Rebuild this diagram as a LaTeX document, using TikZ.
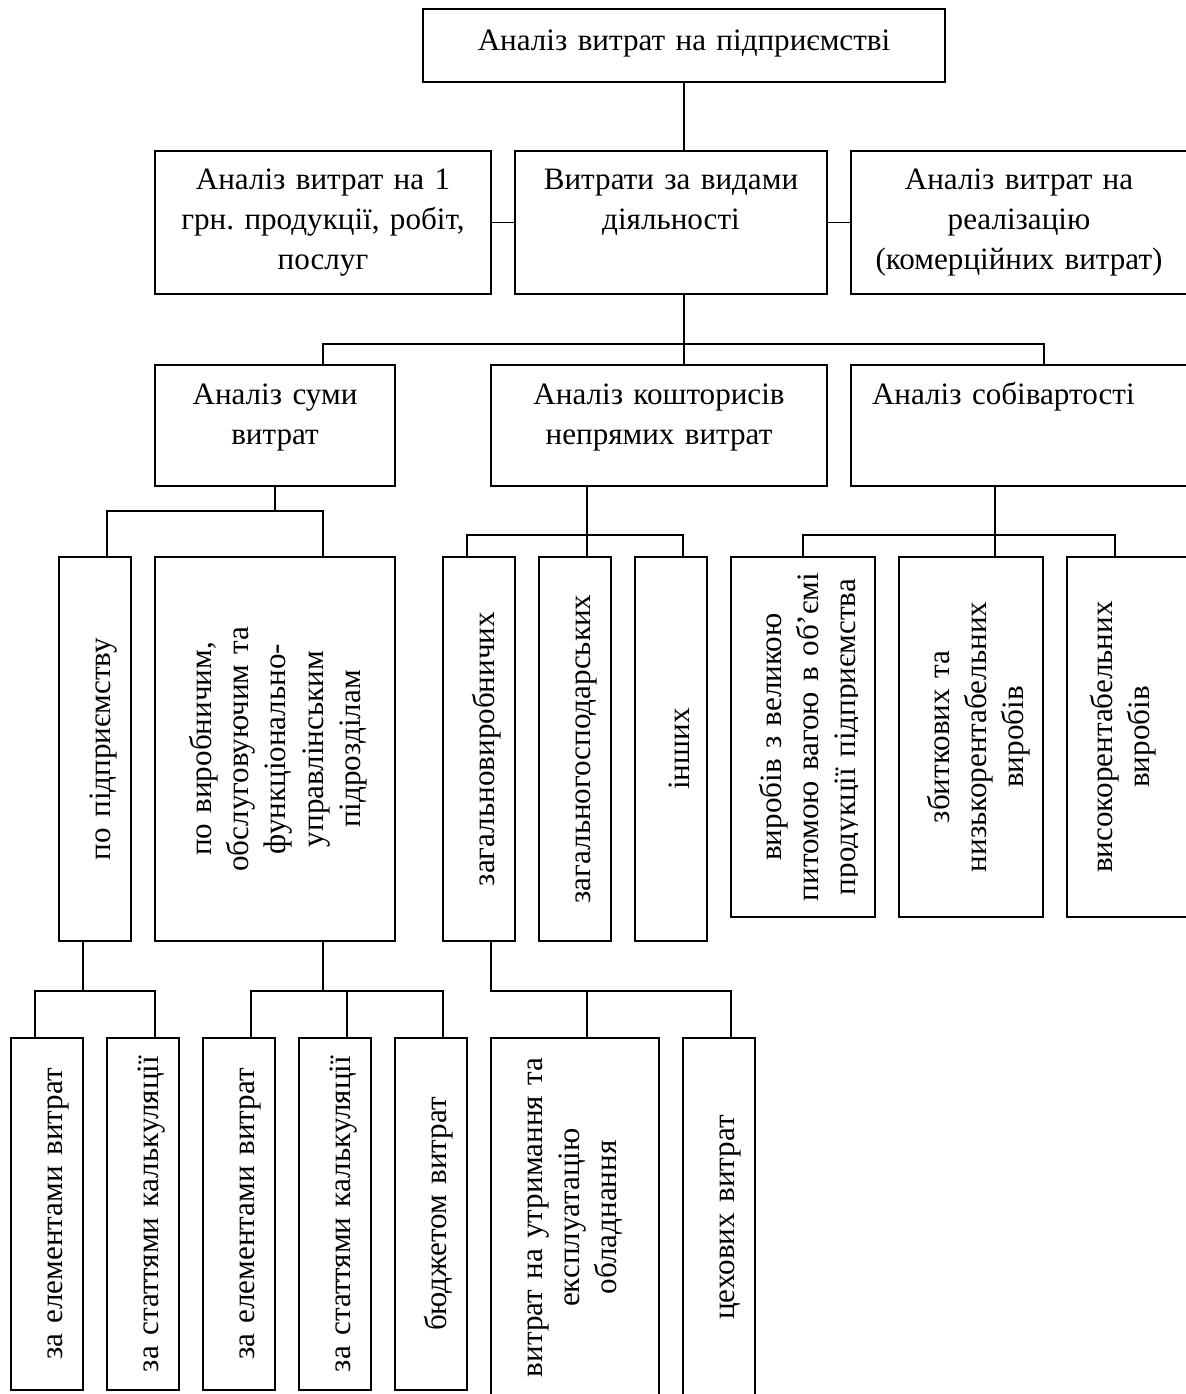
\documentclass[tikz,border=0pt]{standalone}
\usepackage{fontspec}
\setmainfont{Liberation Serif}
\usetikzlibrary{calc}
\frenchspacing

\tikzset{
  box/.style={draw, line width=0.75pt, inner sep=0pt, align=center},
  hbox/.style={box, anchor=north, font=\fontsize{14}{18}\selectfont},
  vbox/.style={box, rotate=90, text height=17pt, font=\fontsize{14}{16.8}\selectfont},
  link/.style={line width=0.75pt},
}

\begin{document}
\begin{tikzpicture}[x=0.45pt, y=-0.45pt]
  \useasboundingbox (0,0) rectangle (1186,1394);
  \clip (0,0) rectangle (1186,1394);

  % Draw the top box and the next two rows
  \node[hbox, text width=234.9pt, text height=18.9pt, text depth=13.95pt] (top) at (684,8) {Аналіз витрат на підприємстві};
  \foreach \nm/\cx/\w/\txt in {perunit/323/151.2pt/{Аналіз витрат на 1\\грн. продукції, робіт,\\послуг},
      kinds/671/140.4pt/{Витрати за видами\\діяльності},
      sales/1019/151.2pt/{Аналіз витрат на\\реалізацію\\(комерційних витрат)}}
    \node[hbox, text width=\w, text height=17.6pt, text depth=46.8pt] (\nm) at (\cx,150) {\txt};
  \foreach \nm/\cx/\w/\txt in {sum/275/108pt/{Аналіз суми\\витрат},
      cost/659/151.2pt/{Аналіз кошторисів\\непрямих витрат}}
    \node[hbox, text width=\w, text height=18pt, text depth=36.45pt] (\nm) at (\cx,364) {\txt};
  \node[hbox, align=left, inner xsep=9.45pt, text width=132.3pt, text height=18pt, text depth=36.45pt] (selfcost) at (1019,364) {Аналіз собівартості};

  % Draw the upright boxes (rotated: east is the top side, west the bottom)
  \foreach \nm/\cx/\w/\txt in {whole/95/32.4pt/{по підприємству},
      general/479/32.4pt/{загальновиробничих},
      admin/575/32.4pt/{загальногосподарських},
      other/671/32.4pt/{інших}}
    \node[vbox, text width=172.8pt, minimum height=\w] (\nm) at (\cx,749) {\txt};
  \node[vbox, text width=172.8pt, minimum height=108pt, text depth=74.5pt] (units) at (275,749) {по виробничим,\\обслуговуючим та\\функціонально-\\управлінським\\підрозділам};
  \node[vbox, text width=162pt, minimum height=64.8pt] (big) at (803,737) {};
  \begin{scope}
    % the last line is cut off inside the box
    \clip (big.north east) rectangle ($(big.south west)+(-18,0)$);
    \node[vbox, draw=none, text width=162pt, minimum height=64.8pt] (bigtext) at (big) {виробів з великою\\питомою вагою в об’ємі\\продукції підприємства};
  \end{scope}
  \node[vbox, text width=162pt, minimum height=64.8pt] (loss) at (971,737) {збиткових та\\низькорентабельних\\виробів};
  \node[vbox, text width=162pt, minimum height=64.8pt, text depth=41.1pt] (high) at (1139,737) {високорентабельних\\виробів};

  \foreach \nm/\cx/\txt in {e1/47/{за елементами витрат}, s1/143/{за статтями калькуляції},
      e2/239/{за елементами витрат}, s2/335/{за статтями калькуляції}, budget/431/{бюджетом витрат}}
    \node[vbox, text width=158.4pt, minimum height=32.4pt] (\nm) at (\cx,1214) {\txt};
  \node[vbox, text width=161.55pt, minimum height=75.6pt, text depth=46.5pt] (equip) at (575,1217.5) {витрат на утримання та\\експлуатацію\\обладнання};
  \node[vbox, text width=161.55pt, minimum height=32.4pt] (shop) at (719,1217.5) {цехових витрат};

  % Add the connectors
  \draw[link] (top.south) -- (top.south |- kinds.north);
  \draw[link] (perunit) -- (kinds);
  \draw[link] (kinds) -- (sales);
  \draw[link] (top.south |- kinds.south) -- (top.south |- cost.north);
  \draw[link] (top.south |- kinds.south) -- ++(0,49) -| ($(sum.north)+(48,0)$);
  \draw[link] (top.south |- kinds.south) -- ++(0,49) -| ($(selfcost.north)+(25,0)$);

  \foreach \c/\dx in {whole/12, units/48}
    \draw[link] (sum.south) -- ++(0,24) -| ($(\c.east)+(\dx,0)$);
  \foreach \c/\dx in {general/-12, admin/12, other/12}
    \draw[link] ($(cost.south)+(-72,0)$) -- ++(0,48) -| ($(\c.east)+(\dx,0)$);
  \foreach \c/\dx in {big/0, loss/24, high/-24}
    \draw[link] ($(selfcost.south)+(-24,0)$) -- ++(0,48) -| ($(\c.east)+(\dx,0)$);

  \foreach \c/\dx in {e1/-12, s1/12}
    \draw[link] ($(whole.west)+(-12,0)$) -- ++(0,49) -| ($(\c.east)+(\dx,0)$);
  \foreach \c in {e2, s2, budget}
    \draw[link] ($(units.west)+(48,0)$) -- ++(0,49) -| ($(\c.east)+(12,0)$);
  \foreach \c in {equip, shop}
    \draw[link] ($(general.west)+(12,0)$) -- ++(0,49) -| ($(\c.east)+(12,0)$);
\end{tikzpicture}
\end{document}
